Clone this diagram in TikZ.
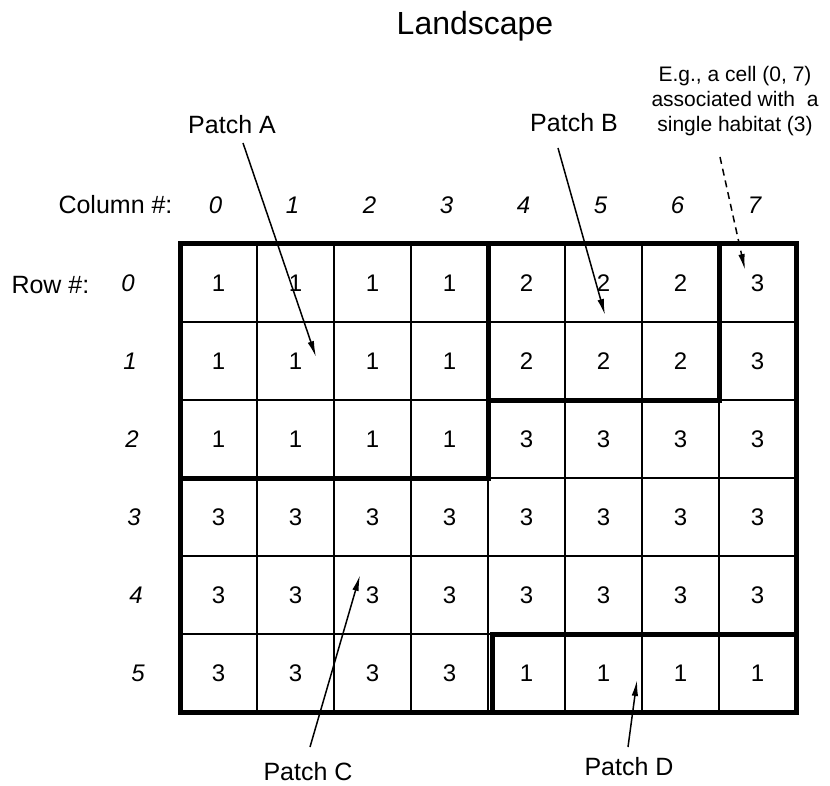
\documentclass[tikz,border=0pt]{standalone}
\usepackage{fontspec}
\setmainfont{Liberation Sans}
\usetikzlibrary{arrows.meta}

\begin{document}
\begin{tikzpicture}[
        x=1pt, y=-1pt,
        every node/.style={font=\fontsize{25}{29}\selectfont},
        cellval/.style={font=\fontsize{24}{28}\selectfont},
        idxlabel/.style={font=\fontsize{24}{28}\selectfont\itshape},
        notelabel/.style={font=\fontsize{21}{25}\selectfont, align=center},
        gridline/.style={line width=1.6pt},
        patchline/.style={line width=5pt, line cap=rect, line join=miter},
        pointer/.style={-{Latex[length=16pt,width=6.5pt]}, line width=1.5pt}
        ]
        \useasboundingbox (0,0) rectangle (830,786);

        % Title and axis captions
        \node (title) at (475,26) {\fontsize{32}{36}\selectfont Landscape};
        \node[anchor=east] (colcap) at (176,205) {Column \#:};
        \node[anchor=west] (rowcap) at (8,285) {Row \#:};

        % Thin cell grid
        \foreach \c in {1,...,7}
            \draw[gridline] ({180+77*\c},244) -- ({180+77*\c},712);
        \foreach \r in {1,...,5}
            \draw[gridline] (180,{244+78*\r}) -- (796,{244+78*\r});

        % Column and row indices
        \foreach \c in {0,...,7}
            \node[idxlabel] (col-\c) at ({180+77*(\c+0.5)-3},205) {\c};
        \foreach \r in {0,...,5}
            \node[idxlabel] (row-\r) at ({128+2*\r},{244+78*(\r+0.5)}) {\r};

        % Habitat values per cell
        \foreach \vals [count=\r from 0] in {{1,1,1,1,2,2,2,3},{1,1,1,1,2,2,2,3},{1,1,1,1,3,3,3,3},
                {3,3,3,3,3,3,3,3},{3,3,3,3,3,3,3,3},{3,3,3,3,1,1,1,1}}
            \foreach \v [count=\c from 0] in \vals
                \node[cellval] (cell-\r-\c) at ({180+77*(\c+0.5)},{244+78*(\r+0.5)}) {\v};

        % Patch boundaries
        \draw[patchline] (180,244) rectangle (796,712);
        \draw[patchline] (488,244) -- (488,478) -- (180,478);
        \draw[patchline] (719,244) -- (719,400) -- (488,400);
        \draw[patchline] (796,634) -- (492,634) -- (492,712);

        % Patch labels
        \node (patchA) at (232,125) {Patch A};
        \node (patchB) at (574,123) {Patch B};
        \node (patchC) at (308,772) {Patch C};
        \node (patchD) at (629,767) {Patch D};
        \node[notelabel] (note) at (735,101) {E.g., a cell (0, 7)\\associated with\ \ a\\single habitat (3)};

        \coordinate (tipA) at (316,357);
        \coordinate (tipB) at (605,315);
        \coordinate (tipC) at (360,575);
        \coordinate (tipD) at (637,680);
        \coordinate (tipE) at (745,270);

        \draw[pointer] ([xshift=11pt,yshift=-18pt]patchA.center) -- (tipA);
        \draw[pointer] ([xshift=-16pt,yshift=-25pt]patchB.center) -- (tipB);
        \draw[pointer] ([xshift=2pt,yshift=25pt]patchC.center) -- (tipC);
        \draw[pointer] ([xshift=-1pt,yshift=20pt]patchD.center) -- (tipD);
        \draw[pointer, dash pattern=on 7pt off 5pt] ([xshift=-15pt,yshift=-56pt]note.center) -- (tipE);

    \end{tikzpicture}
\end{document}
